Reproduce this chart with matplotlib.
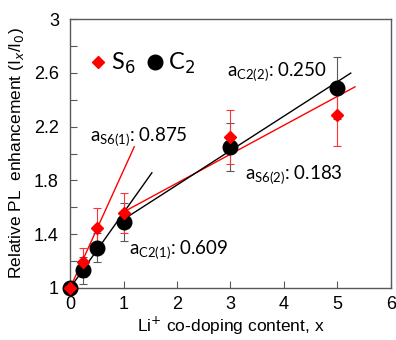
import matplotlib
matplotlib.use("Agg")
import matplotlib.pyplot as plt
import numpy as np

# dados
x_vals = [0, 0.25, 0.5, 1, 3, 5]
s6 = [1.0, 1.19, 1.445, 1.56, 2.12, 2.285]
s6_err = [0, 0.11, 0.15, 0.15, 0.2, 0.23]
c2 = [1.0, 1.13, 1.30, 1.49, 2.05, 2.49]
c2_err = [0, 0.10, 0.11, 0.14, 0.18, 0.23]

# retas de ajuste: (inclinacao, intercepto, x inicial, x final)
fit_s6 = [(0.875, 1.0, 0, 1.2), (0.215, 1.35, 1, 5.33)]
fit_c2 = [(0.56, 1.0, 0, 1.53), (0.256, 1.254, 1, 5.25)]

# anotacoes: (nome, valor, x, y)
notes = [("S6(1)", "0.875", 0.38, 2.12),
         ("C2(2)", "0.250", 2.93, 2.60),
         ("S6(2)", "0.183", 3.27, 1.84),
         ("C2(1)", "0.609", 1.1, 1.28)]

plt.rcParams['font.family'] = ['Liberation Sans', 'DejaVu Sans']

fig = plt.figure(figsize=(3.96, 3.40), dpi=100)
ax = fig.add_axes([0.177, 0.153, 0.81, 0.791])

cinza = '#595959'
for (a, b, x0, x1) in fit_s6:
    xx = np.array([x0, x1])
    ax.plot(xx, b + a * xx, color='#ff0000', lw=1.0, zorder=2)
for (a, b, x0, x1) in fit_c2:
    xx = np.array([x0, x1])
    ax.plot(xx, b + a * xx, color='black', lw=1.0, zorder=2)

ax.errorbar(x_vals, c2, yerr=c2_err, fmt='none', ecolor=cinza, elinewidth=0.8,
            capsize=3, capthick=0.8, zorder=3)
ax.errorbar(x_vals, s6, yerr=s6_err, fmt='none', ecolor='#ff3333', elinewidth=0.8,
            capsize=3, capthick=0.8, zorder=3)
ax.plot(x_vals, c2, 'o', color='black', ms=10.5, zorder=4, clip_on=False, label='C$_2$')
ax.plot(x_vals, s6, 'D', color='#ff0000', ms=6.5, zorder=5, clip_on=False, label='S$_6$')

for nome, val, xt, yt in notes:
    ax.text(xt, yt, "a$_{\\mathregular{" + nome + "}}$: " + val, fontsize=13.5,
            family='Lato', va='center', ha='left', zorder=6)

h, l = ax.get_legend_handles_labels()
leg = ax.legend(h[::-1], l[::-1], loc='upper left', bbox_to_anchor=(-0.015, 0.96),
                ncol=2, frameon=False, prop={'family': 'Lato', 'size': 17},
                handletextpad=0.05, columnspacing=0.3, handlelength=1.0,
                markerscale=1.0)

ax.set_xlim(0, 6)
ax.set_ylim(1, 3)
ax.set_xticks(range(0, 7))
yt = np.round(np.arange(1, 3.01, 0.2), 1)
ax.set_yticks(yt)
ax.set_yticklabels([("%g" % v if i % 2 == 0 else "") for i, v in enumerate(yt)])
ax.tick_params(direction='in', labelsize=13, color=cinza, length=5)
ax.tick_params(axis='y', pad=8)
ax.tick_params(axis='x', pad=6)
for s in ax.spines.values():
    s.set_color(cinza)
    s.set_linewidth(1.0)

ax.set_xlabel("Li$^{+}$ co-doping content, x", fontsize=12.5, labelpad=1)
ax.set_ylabel("Relative PL  enhancement (I$_x$/I$_0$)", fontsize=12.5, labelpad=6)

plt.savefig("out.png", dpi=100)
plt.close()
